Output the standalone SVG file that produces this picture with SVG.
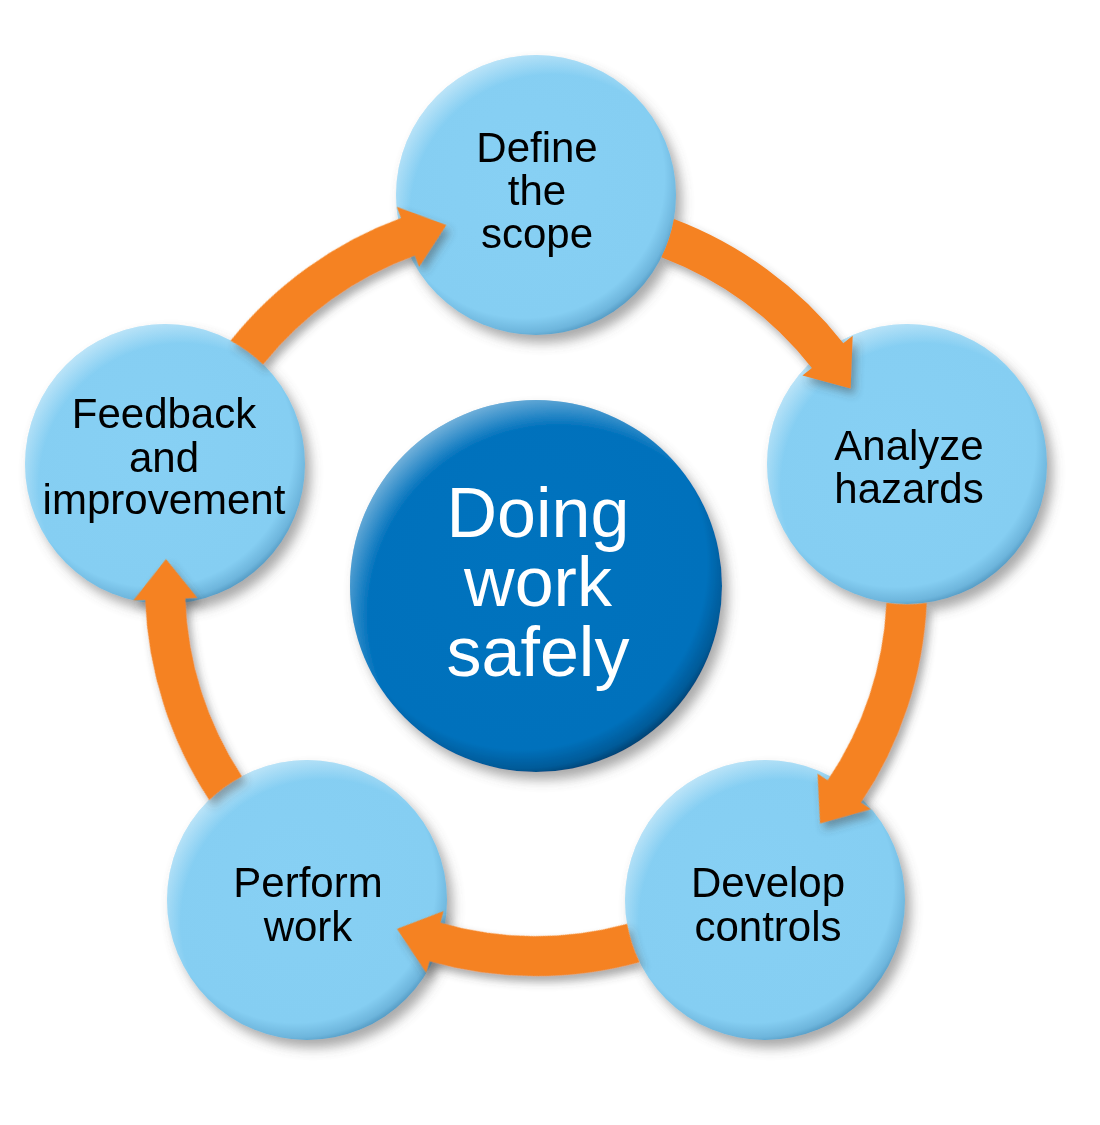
<svg xmlns="http://www.w3.org/2000/svg" width="1100" height="1125" viewBox="0 0 1100 1125">
<defs>
<style>
.lbl{font-family:"Liberation Sans",Arial,Helvetica,sans-serif;font-size:42px;fill:#000;text-anchor:middle}
.ctr{font-family:"Liberation Sans",Arial,Helvetica,sans-serif;font-size:70px;fill:#fff;text-anchor:middle}
.arrow{fill:#F58220}
</style>
<radialGradient id="lb" cx="0.46" cy="0.44" r="0.58">
<stop offset="0" stop-color="#87D0F4"/>
<stop offset="0.86" stop-color="#85CEF2"/>
<stop offset="0.95" stop-color="#6DB5DC"/>
<stop offset="1" stop-color="#4E93BC"/>
</radialGradient>
<radialGradient id="db" cx="0.46" cy="0.44" r="0.58">
<stop offset="0" stop-color="#0073BE"/>
<stop offset="0.86" stop-color="#0071BC"/>
<stop offset="0.95" stop-color="#005A98"/>
<stop offset="1" stop-color="#003A66"/>
</radialGradient>
<radialGradient id="hl" cx="0.56" cy="0.58" r="0.6">
<stop offset="0.85" stop-color="#fff" stop-opacity="0"/>
<stop offset="1" stop-color="#fff" stop-opacity="0.45"/>
</radialGradient>
<filter id="sh" x="-20%" y="-20%" width="150%" height="150%">
<feGaussianBlur in="SourceAlpha" stdDeviation="6"/>
<feOffset dx="6" dy="8" result="b"/>
<feFlood flood-color="#555" flood-opacity="0.5"/>
<feComposite in2="b" operator="in"/>
<feMerge><feMergeNode/><feMergeNode in="SourceGraphic"/></feMerge>
</filter>
<filter id="ash" x="-20%" y="-20%" width="150%" height="150%">
<feGaussianBlur in="SourceAlpha" stdDeviation="4"/>
<feOffset dx="4" dy="6" result="b"/>
<feFlood flood-color="#444" flood-opacity="0.45"/>
<feComposite in2="b" operator="in"/>
<feMerge><feMergeNode/><feMergeNode in="SourceGraphic"/></feMerge>
</filter>
</defs>
<rect width="1100" height="1125" fill="#fff"/>

<g id="node-center" filter="url(#sh)">
<circle cx="536" cy="586" r="186" fill="url(#db)"/>
<circle cx="536" cy="586" r="186" fill="url(#hl)"/>
<text class="ctr" x="538" y="537">Doing</text>
<text class="ctr" x="538" y="606">work</text>
<text class="ctr" x="538" y="676">safely</text>
</g>

<g id="node-define" filter="url(#sh)">
<circle cx="536" cy="195" r="140" fill="url(#lb)"/>
<circle cx="536" cy="195" r="140" fill="url(#hl)"/>
<text class="lbl" x="537" y="162">Define</text>
<text class="lbl" x="537" y="205">the</text>
<text class="lbl" x="537" y="248">scope</text>
</g>

<g id="node-analyze" filter="url(#sh)">
<circle cx="907" cy="464" r="140" fill="url(#lb)"/>
<circle cx="907" cy="464" r="140" fill="url(#hl)"/>
<text class="lbl" x="909" y="460">Analyze</text>
<text class="lbl" x="909" y="503">hazards</text>
</g>

<g id="node-develop" filter="url(#sh)">
<circle cx="765" cy="900" r="140" fill="url(#lb)"/>
<circle cx="765" cy="900" r="140" fill="url(#hl)"/>
<text class="lbl" x="768" y="897">Develop</text>
<text class="lbl" x="768" y="941">controls</text>
</g>

<g id="node-perform" filter="url(#sh)">
<circle cx="307" cy="900" r="140" fill="url(#lb)"/>
<circle cx="307" cy="900" r="140" fill="url(#hl)"/>
<text class="lbl" x="308" y="897">Perform</text>
<text class="lbl" x="308" y="941">work</text>
</g>

<g id="node-feedback" filter="url(#sh)">
<circle cx="165" cy="464" r="140" fill="url(#lb)"/>
<circle cx="165" cy="464" r="140" fill="url(#hl)"/>
<text class="lbl" x="164" y="428">Feedback</text>
<text class="lbl" x="164" y="472">and</text>
<text class="lbl" x="164" y="514">improvement</text>
</g>

<g id="connectors" filter="url(#ash)">
<path class="arrow" d="M673.9 219.1 A391 391 0 0 1 843.3 343.2 L852.7 335.8 L850.6 388.4 L802.4 375.4 L811.9 367.9 A351 351 0 0 0 661.4 257.2 A140 140 0 0 0 673.9 219.1 Z"/>
<path class="arrow" transform="rotate(72 536 585)" d="M673.9 219.1 A391 391 0 0 1 843.3 343.2 L852.7 335.8 L850.6 388.4 L802.4 375.4 L811.9 367.9 A351 351 0 0 0 661.4 257.2 A140 140 0 0 0 673.9 219.1 Z"/>
<path class="arrow" transform="rotate(144 536 585)" d="M673.9 219.1 A391 391 0 0 1 843.3 343.2 L852.7 335.8 L850.6 388.4 L802.4 375.4 L811.9 367.9 A351 351 0 0 0 661.4 257.2 A140 140 0 0 0 673.9 219.1 Z"/>
<path class="arrow" transform="rotate(216 536 585)" d="M673.9 219.1 A391 391 0 0 1 843.3 343.2 L852.7 335.8 L850.6 388.4 L802.4 375.4 L811.9 367.9 A351 351 0 0 0 661.4 257.2 A140 140 0 0 0 673.9 219.1 Z"/>
<path class="arrow" transform="rotate(288 536 585)" d="M673.9 219.1 A391 391 0 0 1 843.3 343.2 L852.7 335.8 L850.6 388.4 L802.4 375.4 L811.9 367.9 A351 351 0 0 0 661.4 257.2 A140 140 0 0 0 673.9 219.1 Z"/>
</g>
</svg>
